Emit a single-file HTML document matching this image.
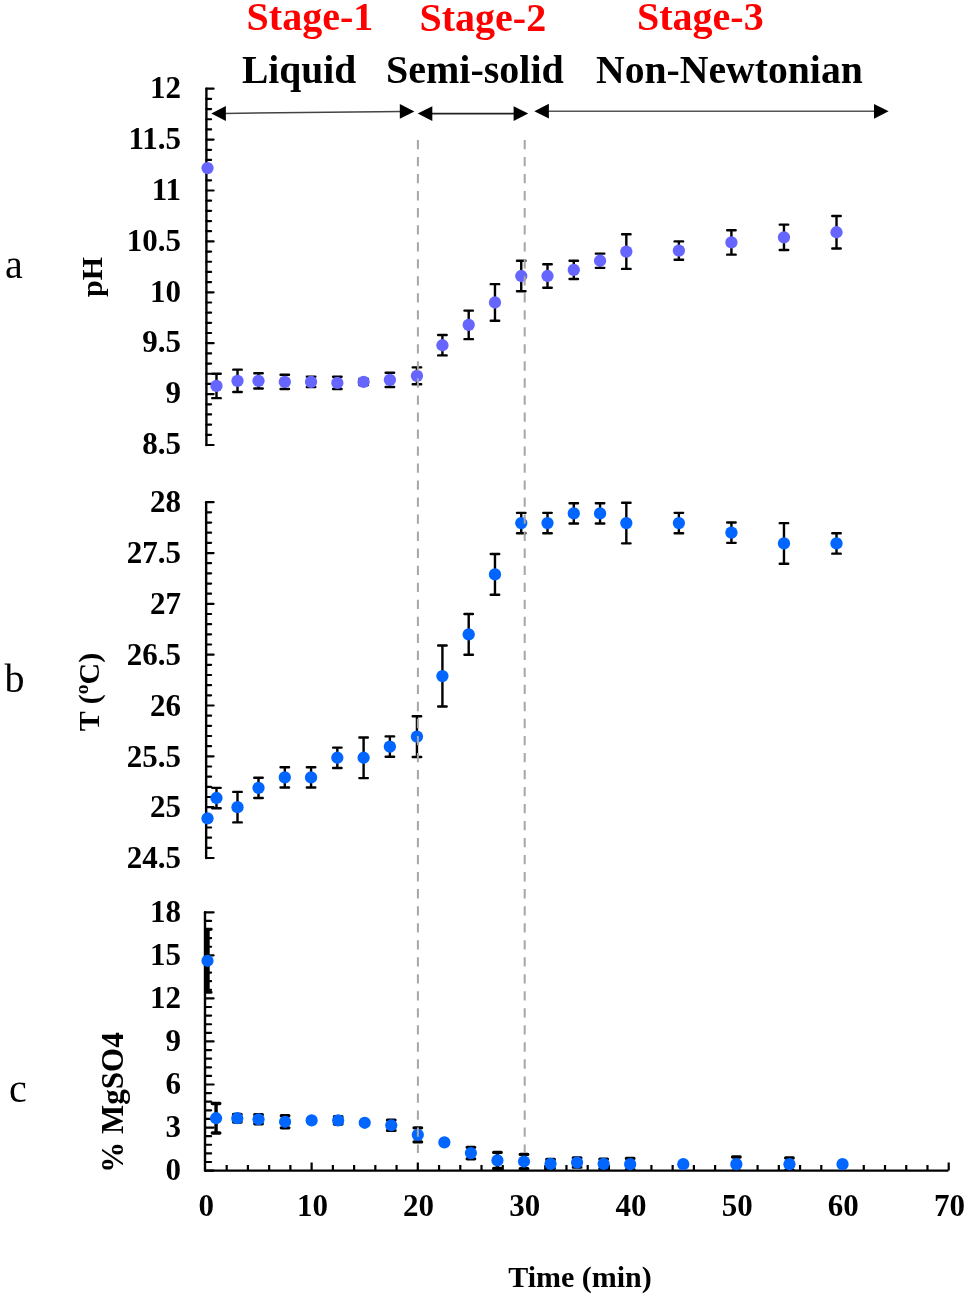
<!DOCTYPE html>
<html><head><meta charset="utf-8"><style>
html,body{margin:0;padding:0;background:#fff;}
body{width:968px;height:1297px;overflow:hidden;font-family:"Liberation Serif",serif;}
svg{display:block;will-change:transform;}
</style></head><body>
<svg width="968" height="1297" viewBox="0 0 968 1297">
<defs><clipPath id="cc"><rect x="203.7" y="0" width="800" height="1170.6"/></clipPath></defs>
<rect width="968" height="1297" fill="#fff"/>
<text x="246.6" y="29.7" font-family="Liberation Serif, serif" font-weight="bold" font-size="40" fill="#f00">Stage-1</text>
<text x="419.5" y="30.5" font-family="Liberation Serif, serif" font-weight="bold" font-size="40" fill="#f00">Stage-2</text>
<text x="637" y="29.7" font-family="Liberation Serif, serif" font-weight="bold" font-size="40" fill="#f00">Stage-3</text>
<text x="242" y="82.7" font-family="Liberation Serif, serif" font-weight="bold" font-size="39.5">Liquid</text>
<text x="386" y="82.7" font-family="Liberation Serif, serif" font-weight="bold" font-size="40">Semi-solid</text>
<text x="596" y="82.9" font-family="Liberation Serif, serif" font-weight="bold" font-size="39.7">Non-Newtonian</text>
<path d="M224 113.4L402 111.5" stroke="#444" stroke-width="1.5" fill="none"/>
<path d="M211.30 113.50L225.90 106.10L225.90 120.90Z" fill="#000"/>
<path d="M414.40 111.40L399.80 104.00L399.80 118.80Z" fill="#000"/>
<path d="M430 113.6L516 113.6" stroke="#222" stroke-width="1.8" fill="none"/>
<path d="M417.70 113.60L432.30 106.20L432.30 121.00Z" fill="#000"/>
<path d="M528.20 113.60L513.60 106.20L513.60 121.00Z" fill="#000"/>
<path d="M547 111.2L876 111.3" stroke="#555" stroke-width="1.4" fill="none"/>
<path d="M534.30 111.20L548.90 103.80L548.90 118.60Z" fill="#000"/>
<path d="M888.60 111.30L874.00 103.90L874.00 118.70Z" fill="#000"/>
<path d="M206.4 88.7 V445.0" stroke="#000" stroke-width="2.4" stroke-linecap="round" fill="none"/>
<path d="M206.4 88.70H213.6M206.4 98.88H211.1M206.4 109.06H211.1M206.4 119.24H211.1M206.4 129.42H211.1M206.4 139.60H213.6M206.4 149.78H211.1M206.4 159.96H211.1M206.4 170.14H211.1M206.4 180.32H211.1M206.4 190.50H213.6M206.4 200.68H211.1M206.4 210.86H211.1M206.4 221.04H211.1M206.4 231.22H211.1M206.4 241.40H213.6M206.4 251.58H211.1M206.4 261.76H211.1M206.4 271.94H211.1M206.4 282.12H211.1M206.4 292.30H213.6M206.4 302.48H211.1M206.4 312.66H211.1M206.4 322.84H211.1M206.4 333.02H211.1M206.4 343.20H213.6M206.4 353.38H211.1M206.4 363.56H211.1M206.4 373.74H211.1M206.4 383.92H211.1M206.4 394.10H213.6M206.4 404.28H211.1M206.4 414.46H211.1M206.4 424.64H211.1M206.4 434.82H211.1M206.4 445.00H213.6" stroke="#000" stroke-width="2.2" stroke-linecap="round" fill="none"/>
<text x="181" y="97.95" text-anchor="end" font-family="Liberation Serif, serif" font-weight="bold" font-size="31">12</text>
<text x="181" y="148.85" text-anchor="end" font-family="Liberation Serif, serif" font-weight="bold" font-size="31">11.5</text>
<text x="181" y="199.75" text-anchor="end" font-family="Liberation Serif, serif" font-weight="bold" font-size="31">11</text>
<text x="181" y="250.65" text-anchor="end" font-family="Liberation Serif, serif" font-weight="bold" font-size="31">10.5</text>
<text x="181" y="301.55" text-anchor="end" font-family="Liberation Serif, serif" font-weight="bold" font-size="31">10</text>
<text x="181" y="352.45" text-anchor="end" font-family="Liberation Serif, serif" font-weight="bold" font-size="31">9.5</text>
<text x="181" y="403.35" text-anchor="end" font-family="Liberation Serif, serif" font-weight="bold" font-size="31">9</text>
<text x="181" y="454.25" text-anchor="end" font-family="Liberation Serif, serif" font-weight="bold" font-size="31">8.5</text>
<path d="M216.48 373.74V398.17M212.23 373.74h8.50M212.23 398.17h8.50" stroke="#000" stroke-width="2.4" stroke-linecap="round" fill="none"/>
<path d="M237.50 369.67V392.06M233.25 369.67h8.50M233.25 392.06h8.50" stroke="#000" stroke-width="2.4" stroke-linecap="round" fill="none"/>
<path d="M258.51 373.23V388.50M254.26 373.23h8.50M254.26 388.50h8.50" stroke="#000" stroke-width="2.4" stroke-linecap="round" fill="none"/>
<path d="M284.79 374.76V389.01M280.54 374.76h8.50M280.54 389.01h8.50" stroke="#000" stroke-width="2.4" stroke-linecap="round" fill="none"/>
<path d="M311.06 376.79V386.97M306.81 376.79h8.50M306.81 386.97h8.50" stroke="#000" stroke-width="2.4" stroke-linecap="round" fill="none"/>
<path d="M337.33 376.79V389.01M333.08 376.79h8.50M333.08 389.01h8.50" stroke="#000" stroke-width="2.4" stroke-linecap="round" fill="none"/>
<path d="M363.61 378.83V384.94M359.36 378.83h8.50M359.36 384.94h8.50" stroke="#000" stroke-width="2.4" stroke-linecap="round" fill="none"/>
<path d="M389.88 372.72V386.97M385.63 372.72h8.50M385.63 386.97h8.50" stroke="#000" stroke-width="2.4" stroke-linecap="round" fill="none"/>
<path d="M416.95 367.33V384.23M412.70 367.33h8.50M412.70 384.23h8.50" stroke="#000" stroke-width="2.4" stroke-linecap="round" fill="none"/>
<path d="M442.42 335.06V355.42M438.17 335.06h8.50M438.17 355.42h8.50" stroke="#000" stroke-width="2.4" stroke-linecap="round" fill="none"/>
<path d="M468.70 310.62V339.13M464.45 310.62h8.50M464.45 339.13h8.50" stroke="#000" stroke-width="2.4" stroke-linecap="round" fill="none"/>
<path d="M494.97 284.16V320.80M490.72 284.16h8.50M490.72 320.80h8.50" stroke="#000" stroke-width="2.4" stroke-linecap="round" fill="none"/>
<path d="M521.24 260.74V291.28M516.99 260.74h8.50M516.99 291.28h8.50" stroke="#000" stroke-width="2.4" stroke-linecap="round" fill="none"/>
<path d="M547.51 264.31V287.72M543.26 264.31h8.50M543.26 287.72h8.50" stroke="#000" stroke-width="2.4" stroke-linecap="round" fill="none"/>
<path d="M573.78 260.74V279.07M569.53 260.74h8.50M569.53 279.07h8.50" stroke="#000" stroke-width="2.4" stroke-linecap="round" fill="none"/>
<path d="M600.06 253.62V267.87M595.81 253.62h8.50M595.81 267.87h8.50" stroke="#000" stroke-width="2.4" stroke-linecap="round" fill="none"/>
<path d="M626.33 234.27V268.89M622.08 234.27h8.50M622.08 268.89h8.50" stroke="#000" stroke-width="2.4" stroke-linecap="round" fill="none"/>
<path d="M678.88 241.40V259.72M674.62 241.40h8.50M674.62 259.72h8.50" stroke="#000" stroke-width="2.4" stroke-linecap="round" fill="none"/>
<path d="M731.42 230.20V254.63M727.17 230.20h8.50M727.17 254.63h8.50" stroke="#000" stroke-width="2.4" stroke-linecap="round" fill="none"/>
<path d="M783.97 224.60V250.05M779.72 224.60h8.50M779.72 250.05h8.50" stroke="#000" stroke-width="2.4" stroke-linecap="round" fill="none"/>
<path d="M836.51 215.95V248.53M832.26 215.95h8.50M832.26 248.53h8.50" stroke="#000" stroke-width="2.4" stroke-linecap="round" fill="none"/>
<circle cx="207.50" cy="168.10" r="6.15" fill="#6666ff"/>
<circle cx="216.48" cy="385.96" r="6.15" fill="#6666ff"/>
<circle cx="237.50" cy="380.87" r="6.15" fill="#6666ff"/>
<circle cx="258.51" cy="380.87" r="6.15" fill="#6666ff"/>
<circle cx="284.79" cy="381.88" r="6.15" fill="#6666ff"/>
<circle cx="311.06" cy="381.88" r="6.15" fill="#6666ff"/>
<circle cx="337.33" cy="382.90" r="6.15" fill="#6666ff"/>
<circle cx="363.61" cy="381.88" r="6.15" fill="#6666ff"/>
<circle cx="389.88" cy="379.85" r="6.15" fill="#6666ff"/>
<circle cx="416.95" cy="375.78" r="6.15" fill="#6666ff"/>
<circle cx="442.42" cy="345.24" r="6.15" fill="#6666ff"/>
<circle cx="468.70" cy="324.88" r="6.15" fill="#6666ff"/>
<circle cx="494.97" cy="302.48" r="6.15" fill="#6666ff"/>
<circle cx="521.24" cy="276.01" r="6.15" fill="#6666ff"/>
<circle cx="547.51" cy="276.01" r="6.15" fill="#6666ff"/>
<circle cx="573.78" cy="269.90" r="6.15" fill="#6666ff"/>
<circle cx="600.06" cy="260.74" r="6.15" fill="#6666ff"/>
<circle cx="626.33" cy="251.58" r="6.15" fill="#6666ff"/>
<circle cx="678.88" cy="250.56" r="6.15" fill="#6666ff"/>
<circle cx="731.42" cy="242.42" r="6.15" fill="#6666ff"/>
<circle cx="783.97" cy="237.33" r="6.15" fill="#6666ff"/>
<circle cx="836.51" cy="232.24" r="6.15" fill="#6666ff"/>
<path d="M206.15 502.2 V858.0" stroke="#000" stroke-width="2.4" stroke-linecap="round" fill="none"/>
<path d="M206.15 502.20H213.6M206.15 512.37H211.1M206.15 522.53H211.1M206.15 532.70H211.1M206.15 542.86H211.1M206.15 553.03H213.6M206.15 563.19H211.1M206.15 573.36H211.1M206.15 583.53H211.1M206.15 593.69H211.1M206.15 603.86H213.6M206.15 614.02H211.1M206.15 624.19H211.1M206.15 634.35H211.1M206.15 644.52H211.1M206.15 654.69H213.6M206.15 664.85H211.1M206.15 675.02H211.1M206.15 685.18H211.1M206.15 695.35H211.1M206.15 705.51H213.6M206.15 715.68H211.1M206.15 725.85H211.1M206.15 736.01H211.1M206.15 746.18H211.1M206.15 756.34H213.6M206.15 766.51H211.1M206.15 776.67H211.1M206.15 786.84H211.1M206.15 797.01H211.1M206.15 807.17H213.6M206.15 817.34H211.1M206.15 827.50H211.1M206.15 837.67H211.1M206.15 847.83H211.1M206.15 858.00H213.6" stroke="#000" stroke-width="2.2" stroke-linecap="round" fill="none"/>
<text x="181" y="512.40" text-anchor="end" font-family="Liberation Serif, serif" font-weight="bold" font-size="31">28</text>
<text x="181" y="563.23" text-anchor="end" font-family="Liberation Serif, serif" font-weight="bold" font-size="31">27.5</text>
<text x="181" y="614.06" text-anchor="end" font-family="Liberation Serif, serif" font-weight="bold" font-size="31">27</text>
<text x="181" y="664.89" text-anchor="end" font-family="Liberation Serif, serif" font-weight="bold" font-size="31">26.5</text>
<text x="181" y="715.71" text-anchor="end" font-family="Liberation Serif, serif" font-weight="bold" font-size="31">26</text>
<text x="181" y="766.54" text-anchor="end" font-family="Liberation Serif, serif" font-weight="bold" font-size="31">25.5</text>
<text x="181" y="817.37" text-anchor="end" font-family="Liberation Serif, serif" font-weight="bold" font-size="31">25</text>
<text x="181" y="868.20" text-anchor="end" font-family="Liberation Serif, serif" font-weight="bold" font-size="31">24.5</text>
<path d="M216.48 787.86V808.19M212.23 787.86h8.50M212.23 808.19h8.50" stroke="#000" stroke-width="2.4" stroke-linecap="round" fill="none"/>
<path d="M237.50 791.92V822.42M233.25 791.92h8.50M233.25 822.42h8.50" stroke="#000" stroke-width="2.4" stroke-linecap="round" fill="none"/>
<path d="M258.51 777.69V798.02M254.26 777.69h8.50M254.26 798.02h8.50" stroke="#000" stroke-width="2.4" stroke-linecap="round" fill="none"/>
<path d="M284.79 767.22V787.55M280.54 767.22h8.50M280.54 787.55h8.50" stroke="#000" stroke-width="2.4" stroke-linecap="round" fill="none"/>
<path d="M311.06 767.22V787.55M306.81 767.22h8.50M306.81 787.55h8.50" stroke="#000" stroke-width="2.4" stroke-linecap="round" fill="none"/>
<path d="M337.33 747.60V767.93M333.08 747.60h8.50M333.08 767.93h8.50" stroke="#000" stroke-width="2.4" stroke-linecap="round" fill="none"/>
<path d="M363.61 737.43V778.10M359.36 737.43h8.50M359.36 778.10h8.50" stroke="#000" stroke-width="2.4" stroke-linecap="round" fill="none"/>
<path d="M389.88 736.42V756.75M385.63 736.42h8.50M385.63 756.75h8.50" stroke="#000" stroke-width="2.4" stroke-linecap="round" fill="none"/>
<path d="M416.95 716.29V756.95M412.70 716.29h8.50M412.70 756.95h8.50" stroke="#000" stroke-width="2.4" stroke-linecap="round" fill="none"/>
<path d="M442.42 645.54V706.53M438.17 645.54h8.50M438.17 706.53h8.50" stroke="#000" stroke-width="2.4" stroke-linecap="round" fill="none"/>
<path d="M468.70 614.02V654.69M464.45 614.02h8.50M464.45 654.69h8.50" stroke="#000" stroke-width="2.4" stroke-linecap="round" fill="none"/>
<path d="M494.97 554.05V594.71M490.72 554.05h8.50M490.72 594.71h8.50" stroke="#000" stroke-width="2.4" stroke-linecap="round" fill="none"/>
<path d="M521.24 512.87V533.21M516.99 512.87h8.50M516.99 533.21h8.50" stroke="#000" stroke-width="2.4" stroke-linecap="round" fill="none"/>
<path d="M547.51 512.87V533.21M543.26 512.87h8.50M543.26 533.21h8.50" stroke="#000" stroke-width="2.4" stroke-linecap="round" fill="none"/>
<path d="M573.78 503.22V523.55M569.53 503.22h8.50M569.53 523.55h8.50" stroke="#000" stroke-width="2.4" stroke-linecap="round" fill="none"/>
<path d="M600.06 503.22V523.55M595.81 503.22h8.50M595.81 523.55h8.50" stroke="#000" stroke-width="2.4" stroke-linecap="round" fill="none"/>
<path d="M626.33 502.71V543.37M622.08 502.71h8.50M622.08 543.37h8.50" stroke="#000" stroke-width="2.4" stroke-linecap="round" fill="none"/>
<path d="M678.88 512.87V533.21M674.62 512.87h8.50M674.62 533.21h8.50" stroke="#000" stroke-width="2.4" stroke-linecap="round" fill="none"/>
<path d="M731.42 522.53V542.86M727.17 522.53h8.50M727.17 542.86h8.50" stroke="#000" stroke-width="2.4" stroke-linecap="round" fill="none"/>
<path d="M783.97 523.14V563.80M779.72 523.14h8.50M779.72 563.80h8.50" stroke="#000" stroke-width="2.4" stroke-linecap="round" fill="none"/>
<path d="M836.51 533.31V553.64M832.26 533.31h8.50M832.26 553.64h8.50" stroke="#000" stroke-width="2.4" stroke-linecap="round" fill="none"/>
<circle cx="207.50" cy="818.35" r="6.15" fill="#0066ff"/>
<circle cx="216.48" cy="798.02" r="6.15" fill="#0066ff"/>
<circle cx="237.50" cy="807.17" r="6.15" fill="#0066ff"/>
<circle cx="258.51" cy="787.86" r="6.15" fill="#0066ff"/>
<circle cx="284.79" cy="777.39" r="6.15" fill="#0066ff"/>
<circle cx="311.06" cy="777.39" r="6.15" fill="#0066ff"/>
<circle cx="337.33" cy="757.77" r="6.15" fill="#0066ff"/>
<circle cx="363.61" cy="757.77" r="6.15" fill="#0066ff"/>
<circle cx="389.88" cy="746.58" r="6.15" fill="#0066ff"/>
<circle cx="416.95" cy="736.62" r="6.15" fill="#0066ff"/>
<circle cx="442.42" cy="676.03" r="6.15" fill="#0066ff"/>
<circle cx="468.70" cy="634.35" r="6.15" fill="#0066ff"/>
<circle cx="494.97" cy="574.38" r="6.15" fill="#0066ff"/>
<circle cx="521.24" cy="523.04" r="6.15" fill="#0066ff"/>
<circle cx="547.51" cy="523.04" r="6.15" fill="#0066ff"/>
<circle cx="573.78" cy="513.38" r="6.15" fill="#0066ff"/>
<circle cx="600.06" cy="513.38" r="6.15" fill="#0066ff"/>
<circle cx="626.33" cy="523.04" r="6.15" fill="#0066ff"/>
<circle cx="678.88" cy="523.04" r="6.15" fill="#0066ff"/>
<circle cx="731.42" cy="532.70" r="6.15" fill="#0066ff"/>
<circle cx="783.97" cy="543.47" r="6.15" fill="#0066ff"/>
<circle cx="836.51" cy="543.47" r="6.15" fill="#0066ff"/>
<path d="M205.0 912.3 V1170.6" stroke="#000" stroke-width="2.4" stroke-linecap="round" fill="none"/>
<path d="M205.0 912.30H213.6M205.0 920.91H211.1M205.0 929.52H211.1M205.0 938.13H211.1M205.0 946.74H211.1M205.0 955.35H213.6M205.0 963.96H211.1M205.0 972.57H211.1M205.0 981.18H211.1M205.0 989.79H211.1M205.0 998.40H213.6M205.0 1007.01H211.1M205.0 1015.62H211.1M205.0 1024.23H211.1M205.0 1032.84H211.1M205.0 1041.45H213.6M205.0 1050.06H211.1M205.0 1058.67H211.1M205.0 1067.28H211.1M205.0 1075.89H211.1M205.0 1084.50H213.6M205.0 1093.11H211.1M205.0 1101.72H211.1M205.0 1110.33H211.1M205.0 1118.94H211.1M205.0 1127.55H213.6M205.0 1136.16H211.1M205.0 1144.77H211.1M205.0 1153.38H211.1M205.0 1161.99H211.1M205.0 1170.60H213.6" stroke="#000" stroke-width="2.2" stroke-linecap="round" fill="none"/>
<text x="181" y="922.00" text-anchor="end" font-family="Liberation Serif, serif" font-weight="bold" font-size="31">18</text>
<text x="181" y="965.05" text-anchor="end" font-family="Liberation Serif, serif" font-weight="bold" font-size="31">15</text>
<text x="181" y="1008.10" text-anchor="end" font-family="Liberation Serif, serif" font-weight="bold" font-size="31">12</text>
<text x="181" y="1051.15" text-anchor="end" font-family="Liberation Serif, serif" font-weight="bold" font-size="31">9</text>
<text x="181" y="1094.20" text-anchor="end" font-family="Liberation Serif, serif" font-weight="bold" font-size="31">6</text>
<text x="181" y="1137.25" text-anchor="end" font-family="Liberation Serif, serif" font-weight="bold" font-size="31">3</text>
<text x="181" y="1180.30" text-anchor="end" font-family="Liberation Serif, serif" font-weight="bold" font-size="31">0</text>
<path d="M205.0 1170.6H948.4" stroke="#000" stroke-width="2.4" fill="none"/>
<path d="M226.69 1170.6v-5.5M247.92 1170.6v-5.5M269.16 1170.6v-5.5M290.39 1170.6v-5.5M311.63 1170.6v-8M332.87 1170.6v-5.5M354.10 1170.6v-5.5M375.34 1170.6v-5.5M396.57 1170.6v-5.5M417.81 1170.6v-8M439.05 1170.6v-5.5M460.28 1170.6v-5.5M481.52 1170.6v-5.5M502.75 1170.6v-5.5M523.99 1170.6v-8M545.23 1170.6v-5.5M566.46 1170.6v-5.5M587.70 1170.6v-5.5M608.93 1170.6v-5.5M630.17 1170.6v-8M651.41 1170.6v-5.5M672.64 1170.6v-5.5M693.88 1170.6v-5.5M715.11 1170.6v-5.5M736.35 1170.6v-8M757.59 1170.6v-5.5M778.82 1170.6v-5.5M800.06 1170.6v-5.5M821.29 1170.6v-5.5M842.53 1170.6v-8M863.77 1170.6v-5.5M885.00 1170.6v-5.5M906.24 1170.6v-5.5M927.47 1170.6v-5.5M948.71 1170.6v-8" stroke="#000" stroke-width="2.2" fill="none"/>
<text x="206.25" y="1216" text-anchor="middle" font-family="Liberation Serif, serif" font-weight="bold" font-size="31">0</text>
<text x="312.43" y="1216" text-anchor="middle" font-family="Liberation Serif, serif" font-weight="bold" font-size="31">10</text>
<text x="418.61" y="1216" text-anchor="middle" font-family="Liberation Serif, serif" font-weight="bold" font-size="31">20</text>
<text x="524.79" y="1216" text-anchor="middle" font-family="Liberation Serif, serif" font-weight="bold" font-size="31">30</text>
<text x="630.97" y="1216" text-anchor="middle" font-family="Liberation Serif, serif" font-weight="bold" font-size="31">40</text>
<text x="737.15" y="1216" text-anchor="middle" font-family="Liberation Serif, serif" font-weight="bold" font-size="31">50</text>
<text x="843.33" y="1216" text-anchor="middle" font-family="Liberation Serif, serif" font-weight="bold" font-size="31">60</text>
<text x="949.51" y="1216" text-anchor="middle" font-family="Liberation Serif, serif" font-weight="bold" font-size="31">70</text>
<g clip-path="url(#cc)">
<path d="M207.70 929.23V992.37" stroke="#000" stroke-width="4.0" fill="none"/>
<path d="M206.20 929.23H211.25M206.20 992.37H211.25" stroke="#000" stroke-width="2.8" stroke-linecap="round" fill="none"/>
<path d="M216.07 1103.44V1133.00M212.32 1103.44h7.50M212.32 1133.00h7.50" stroke="#000" stroke-width="3.4" stroke-linecap="round" fill="none"/>
<path d="M237.30 1114.35V1122.10M233.55 1114.35h7.50M233.55 1122.10h7.50" stroke="#000" stroke-width="3.4" stroke-linecap="round" fill="none"/>
<path d="M258.54 1114.63V1123.82M254.79 1114.63h7.50M254.79 1123.82h7.50" stroke="#000" stroke-width="3.4" stroke-linecap="round" fill="none"/>
<path d="M285.08 1115.78V1127.84M281.33 1115.78h7.50M281.33 1127.84h7.50" stroke="#000" stroke-width="3.4" stroke-linecap="round" fill="none"/>
<path d="M311.63 1118.94V1121.81M307.88 1118.94h7.50M307.88 1121.81h7.50" stroke="#000" stroke-width="3.4" stroke-linecap="round" fill="none"/>
<path d="M338.17 1116.79V1123.96M334.42 1116.79h7.50M334.42 1123.96h7.50" stroke="#000" stroke-width="3.4" stroke-linecap="round" fill="none"/>
<path d="M364.72 1121.38V1124.25M360.97 1121.38h7.50M360.97 1124.25h7.50" stroke="#000" stroke-width="3.4" stroke-linecap="round" fill="none"/>
<path d="M391.26 1120.09V1130.42M387.51 1120.09h7.50M387.51 1130.42h7.50" stroke="#000" stroke-width="3.4" stroke-linecap="round" fill="none"/>
<path d="M417.81 1127.84V1141.90M414.06 1127.84h7.50M414.06 1141.90h7.50" stroke="#000" stroke-width="3.4" stroke-linecap="round" fill="none"/>
<path d="M444.36 1140.90V1143.77M440.61 1140.90h7.50M440.61 1143.77h7.50" stroke="#000" stroke-width="3.4" stroke-linecap="round" fill="none"/>
<path d="M470.90 1147.35V1158.83M467.15 1147.35h7.50M467.15 1158.83h7.50" stroke="#000" stroke-width="3.4" stroke-linecap="round" fill="none"/>
<path d="M497.44 1152.38V1168.45M493.69 1152.38h7.50M493.69 1168.45h7.50" stroke="#000" stroke-width="3.4" stroke-linecap="round" fill="none"/>
<path d="M523.99 1154.38V1168.73M520.24 1154.38h7.50M520.24 1168.73h7.50" stroke="#000" stroke-width="3.4" stroke-linecap="round" fill="none"/>
<path d="M550.54 1159.41V1168.30M546.79 1159.41h7.50M546.79 1168.30h7.50" stroke="#000" stroke-width="3.4" stroke-linecap="round" fill="none"/>
<path d="M577.08 1157.97V1167.16M573.33 1157.97h7.50M573.33 1167.16h7.50" stroke="#000" stroke-width="3.4" stroke-linecap="round" fill="none"/>
<path d="M603.62 1159.12V1168.59M599.88 1159.12h7.50M599.88 1168.59h7.50" stroke="#000" stroke-width="3.4" stroke-linecap="round" fill="none"/>
<path d="M630.17 1158.55V1169.74M626.42 1158.55h7.50M626.42 1169.74h7.50" stroke="#000" stroke-width="3.4" stroke-linecap="round" fill="none"/>
<path d="M736.35 1156.97V1171.32M732.60 1156.97h7.50M732.60 1171.32h7.50" stroke="#000" stroke-width="3.4" stroke-linecap="round" fill="none"/>
<path d="M789.44 1157.97V1170.31M785.69 1157.97h7.50M785.69 1170.31h7.50" stroke="#000" stroke-width="3.4" stroke-linecap="round" fill="none"/>
</g>
<circle cx="207.50" cy="960.80" r="6.1" fill="#0066ff"/>
<circle cx="216.07" cy="1118.22" r="6.1" fill="#0066ff"/>
<circle cx="237.30" cy="1118.22" r="6.1" fill="#0066ff"/>
<circle cx="258.54" cy="1119.23" r="6.1" fill="#0066ff"/>
<circle cx="285.08" cy="1121.81" r="6.1" fill="#0066ff"/>
<circle cx="311.63" cy="1120.38" r="6.1" fill="#0066ff"/>
<circle cx="338.17" cy="1120.38" r="6.1" fill="#0066ff"/>
<circle cx="364.72" cy="1122.81" r="6.1" fill="#0066ff"/>
<circle cx="391.26" cy="1125.25" r="6.1" fill="#0066ff"/>
<circle cx="417.81" cy="1134.87" r="6.1" fill="#0066ff"/>
<circle cx="444.36" cy="1142.33" r="6.1" fill="#0066ff"/>
<circle cx="470.90" cy="1153.09" r="6.1" fill="#0066ff"/>
<circle cx="497.44" cy="1160.41" r="6.1" fill="#0066ff"/>
<circle cx="523.99" cy="1161.56" r="6.1" fill="#0066ff"/>
<circle cx="550.54" cy="1163.86" r="6.1" fill="#0066ff"/>
<circle cx="577.08" cy="1162.56" r="6.1" fill="#0066ff"/>
<circle cx="603.62" cy="1163.86" r="6.1" fill="#0066ff"/>
<circle cx="630.17" cy="1164.14" r="6.1" fill="#0066ff"/>
<circle cx="683.26" cy="1164.14" r="6.1" fill="#0066ff"/>
<circle cx="736.35" cy="1164.14" r="6.1" fill="#0066ff"/>
<circle cx="789.44" cy="1164.14" r="6.1" fill="#0066ff"/>
<circle cx="842.53" cy="1164.14" r="6.1" fill="#0066ff"/>
<path d="M417.9 140V1153M524.7 140V1153" stroke="#a6a6a6" stroke-width="2" stroke-dasharray="9.3 7.725" fill="none"/>
<text x="580" y="1287" text-anchor="middle" font-family="Liberation Serif, serif" font-weight="bold" font-size="30">Time (min)</text>
<text transform="translate(101.7 277) rotate(-90)" text-anchor="middle" font-family="Liberation Serif, serif" font-weight="bold" font-size="30">pH</text>
<text transform="translate(99.4 692) rotate(-90)" text-anchor="middle" font-family="Liberation Serif, serif" font-weight="bold" font-size="30">T (ºC)</text>
<text transform="translate(123 1102.5) rotate(-90)" text-anchor="middle" font-family="Liberation Serif, serif" font-weight="bold" font-size="31">% MgSO4</text>
<text x="5" y="278" font-family="Liberation Serif, serif" font-size="40">a</text>
<text x="4.5" y="692" font-family="Liberation Serif, serif" font-size="40">b</text>
<text x="9" y="1101.6" font-family="Liberation Serif, serif" font-size="40">c</text>
</svg>
</body></html>
